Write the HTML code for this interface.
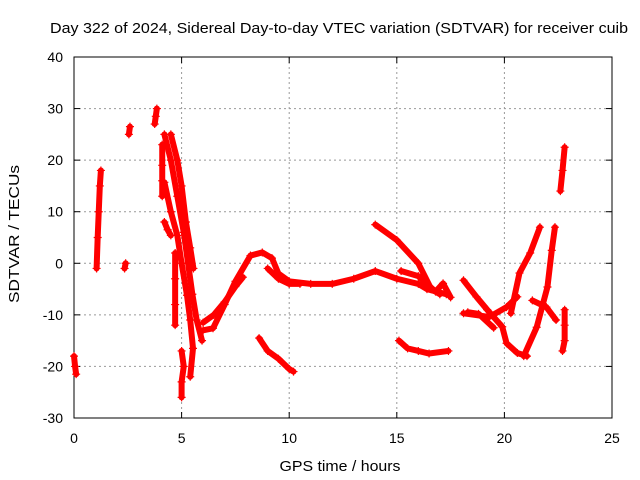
<!DOCTYPE html>
<html><head><meta charset="utf-8"><style>
body{margin:0;background:#fff}
svg{display:block;font-family:"Liberation Sans",sans-serif}
</style></head><body>
<svg id="chart" width="640" height="480">
<rect width="640" height="480" fill="#fff"/>
<text x="339" y="33" text-anchor="middle" font-size="15" textLength="578" lengthAdjust="spacingAndGlyphs">Day 322 of 2024, Sidereal Day-to-day VTEC variation (SDTVAR) for receiver cuib</text>
<text x="340" y="471" text-anchor="middle" font-size="15" textLength="121" lengthAdjust="spacingAndGlyphs">GPS time / hours</text>
<text transform="translate(19,234) rotate(-90)" text-anchor="middle" font-size="15" textLength="138" lengthAdjust="spacingAndGlyphs">SDTVAR / TECUs</text>
<g id="grid"></g><g id="axes"></g><g id="marks"></g>
</svg>
<script>
const xTicks=[0,5,10,15,20,25];
const yTicks=[-30,-20,-10,0,10,20,30,40];
const track01=[[0,-18],[0.05,-20],[0.1,-21.5]];
const track02=[[1.05,-1],[1.1,5],[1.15,10],[1.2,15],[1.25,18]];
const track03=[[2.35,-1],[2.4,0]];
const track04=[[2.55,25],[2.6,26.5]];
const track05=[[3.75,27],[3.8,28.5],[3.85,30]];
const track06=[[4.2,25],[4.5,20],[4.8,13],[5.1,6],[5.3,0],[5.5,-6],[5.7,-11],[5.95,-15]];
const track07=[[4.5,25],[4.8,20],[5.0,15],[5.2,8],[5.4,3],[5.55,-1]];
const track08=[[4.2,15.7],[4.5,10],[4.8,5.4],[5.0,0],[5.25,-6.2],[5.4,-11],[5.53,-16.5],[5.4,-22]];
const track09=[[4.1,23],[4.1,19],[4.1,16],[4.1,13]];
const track10=[[4.7,2],[4.7,-3],[4.7,-8],[4.7,-12]];
const track11=[[4.2,8],[4.35,6.5],[4.5,5.4]];
const track12=[[5.0,-17],[5.1,-20],[5.0,-23],[5.0,-26]];
const track13=[[6.0,-11.5],[6.5,-10],[7.0,-7.5],[7.5,-4.5],[7.85,-2.7]];
const track14=[[6.0,-13],[6.46,-12.6],[7.0,-8],[7.5,-3.5],[8.2,1.5],[8.75,2.1],[9.2,1],[9.5,-2],[10,-3.5],[11,-4],[12,-4],[13,-3],[14,-1.5],[15,-3],[16,-4],[16.4,-5],[17.3,-6]];
const track15=[[9.0,-1],[9.5,-3],[10,-4],[10.5,-4]];
const track16=[[8.6,-14.5],[9.0,-17],[9.5,-18.5],[10.0,-20.5],[10.2,-21]];
const track17=[[14,7.5],[15,4.5],[16,0],[16.6,-5],[17,-6]];
const track18=[[15.1,-15],[15.5,-16.5],[16,-17],[16.5,-17.5],[17.4,-17]];
const track19=[[15.2,-1.5],[16,-2.5],[16.8,-5.5],[17.15,-3.9],[17.5,-6.6]];
const track20=[[18.1,-3.3],[18.7,-6.5],[19.2,-9],[19.9,-12.3],[20.1,-15.5],[20.6,-17.4],[21.05,-18]];
const track21=[[18.1,-9.7],[19.3,-10.4],[20.1,-8.5],[20.6,-6.5]];
const track22=[[20.3,-9.7],[20.7,-1.9],[21.2,2],[21.65,7]];
const track23=[[20.9,-18],[21.5,-12.4],[22,-4.6],[22.2,2.5],[22.35,7]];
const track24=[[21.3,-7.2],[21.95,-8.5],[22.4,-11]];
const track25=[[22.6,14],[22.7,18],[22.8,22.5]];
const track26=[[22.8,-9],[22.8,-12],[22.8,-15],[22.7,-17]];
const track27=[[18.3,-9.5],[18.8,-9.8],[19.5,-12.5]];
const tracks=[track01,track02,track03,track04,track05,track06,track07,track08,track09,track10,track11,track12,track13,track14,track15,track16,track17,track18,track19,track20,track21,track22,track23,track24,track25,track26,track27];

const L=74,R=612,T=57,B=418;
const xs=t=>L+(t-0)/25*(R-L);
const ys=v=>B-(v+30)/70*(B-T);
const NS="http://www.w3.org/2000/svg";
function mk(tag,attrs,parent){const e=document.createElementNS(NS,tag);for(const k in attrs)e.setAttribute(k,attrs[k]);parent.appendChild(e);return e;}
const grid=document.getElementById('grid'),axes=document.getElementById('axes'),marks=document.getElementById('marks');
xTicks.forEach(t=>{
  const x=xs(t);
  if(t>0&&t<25){const g=mk('line',{x1:x,x2:x,y1:T,y2:B,stroke:'#999','stroke-dasharray':'2,3'},grid);
  
  }
  mk('line',{x1:x,x2:x,y1:B,y2:B-6,stroke:'#000'},axes);
  mk('line',{x1:x,x2:x,y1:T,y2:T+6,stroke:'#000'},axes);
  const lb=mk('text',{x:x,y:B+25,'text-anchor':'middle','font-size':14},axes);lb.textContent=t;
  
  
});
yTicks.forEach(v=>{
  const y=ys(v);
  if(v>-30&&v<40){const g=mk('line',{x1:L,x2:R,y1:y,y2:y,stroke:'#999','stroke-dasharray':'2,3'},grid);
  
  }
  mk('line',{x1:L,x2:L+6,y1:y,y2:y,stroke:'#000'},axes);
  mk('line',{x1:R,x2:R-6,y1:y,y2:y,stroke:'#000'},axes);
  const lb=mk('text',{x:L-11,y:y+5,'text-anchor':'end','font-size':14},axes);lb.textContent=v;
  
  
});
const fr=mk('rect',{x:L,y:T,width:R-L,height:B-T,fill:'none',stroke:'#000'},axes);


tracks.forEach((tr)=>{
  const g=mk('g',{},marks);
  
  
  const pts=tr.map(p=>xs(p[0])+','+ys(p[1])).join(' ');
  mk('polyline',{points:pts,fill:'none',stroke:'#f00','stroke-width':6,'stroke-linejoin':'round','stroke-linecap':'round'},g);
  tr.forEach(p=>{
    const x=xs(p[0]),y=ys(p[1]);
    const m=mk('path',{d:`M${x-4},${y}h8M${x},${y-4}v8`,stroke:'#f00','stroke-width':1.2},g);
    
    
  });
});
</script>
</body></html>
